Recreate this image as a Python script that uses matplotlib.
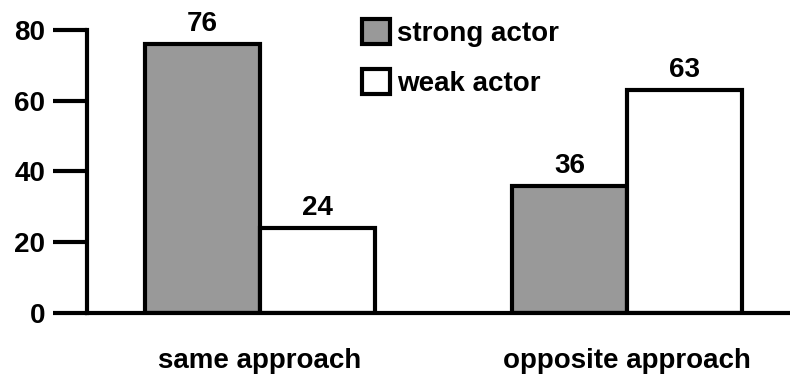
import matplotlib.pyplot as plt
import numpy as np
from matplotlib.patches import Patch

plt.rcParams['font.family'] = ['Liberation Sans', 'DejaVu Sans']
plt.rcParams['font.weight'] = 'bold'

groups = ["same approach", "opposite approach"]
series = ["strong actor", "weak actor"]
strong = [76, 36]
weak = [24, 63]
yticks = [0, 20, 40, 60, 80]

W, H = 790, 387
fig = plt.figure(figsize=(W / 100, H / 100), dpi=100)
ax = fig.add_axes([87 / W, 74 / H, (790 - 87) / W, (313 - 30) / H])

x = np.arange(len(groups))
bw = 0.313
lw = 3
fs = 20
b1 = ax.bar(x - bw / 2, strong, bw, color="#999999", edgecolor="black", linewidth=lw, label=series[0])
b2 = ax.bar(x + bw / 2, weak, bw, color="white", edgecolor="black", linewidth=lw, label=series[1])
for bars in (b1, b2):
    for t in ax.bar_label(bars, padding=5, fontsize=fs, fontweight="bold"):
        t.set_clip_on(False)

ax.set_xlim(-0.471, 1.444)
ax.set_ylim(0, 80)
ax.set_yticks(yticks)
ax.set_xticks(x)
ax.set_xticklabels(groups)
ax.tick_params(axis="y", length=24.5, width=lw, labelsize=fs, pad=5.5)
ax.tick_params(axis="x", length=0, labelsize=fs, pad=25)
for s in ["top", "right"]:
    ax.spines[s].set_visible(False)
for s in ["left", "bottom"]:
    ax.spines[s].set_linewidth(lw)
    ax.spines[s].set_capstyle("projecting")

handles = [Patch(facecolor="#999999", edgecolor="black", linewidth=lw),
           Patch(facecolor="white", edgecolor="black", linewidth=lw)]
fig.legend(handles, series, loc="upper left", bbox_to_anchor=(362 / W, 1 - 19 / H),
           frameon=False, fontsize=fs, handlelength=1.0, handleheight=1.0,
           handletextpad=0.25, labelspacing=0.8, borderaxespad=0, borderpad=0)

fig.savefig("out.png", dpi=100)
